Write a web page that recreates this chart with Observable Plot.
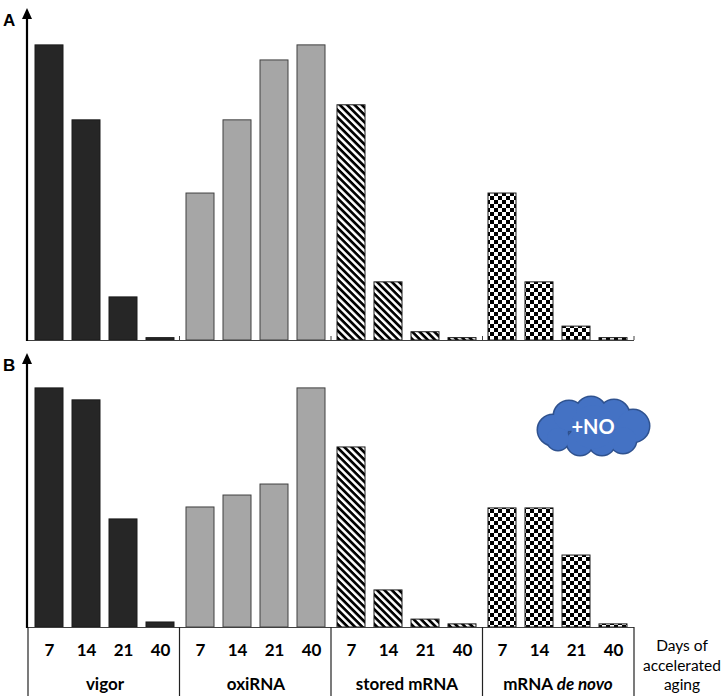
<!DOCTYPE html>
<html>
<head>
<meta charset="utf-8">
<script src="https://cdn.jsdelivr.net/npm/d3@7"></script>
<script src="https://cdn.jsdelivr.net/npm/@observablehq/plot@0.6"></script>
<style>
  html, body { margin: 0; padding: 0; background: #fff; }
  #chart { width: 725px; position: relative; }
  #chart svg { display: block; }
</style>
</head>
<body>
<svg width="0" height="0" style="position:absolute">
  <defs>
    <pattern id="stripes" patternUnits="userSpaceOnUse" width="5.2" height="5.2" patternTransform="rotate(45)">
      <rect x="0" y="0" width="5.2" height="5.2" fill="#fff"></rect>
      <rect x="0" y="0" width="5.2" height="2.7" fill="#000"></rect>
    </pattern>
    <pattern id="checker" patternUnits="userSpaceOnUse" width="8" height="8">
      <rect x="0" y="0" width="8" height="8" fill="#fff"></rect>
      <rect x="0" y="0" width="4" height="4" fill="#000"></rect>
      <rect x="4" y="4" width="4" height="4" fill="#000"></rect>
    </pattern>
  </defs>
</svg>
<div id="chart"></div>
<script>
// ---- data ----
const groups = ["vigor", "oxiRNA", "stored mRNA", "mRNA de novo"];
const days = ["7", "14", "21", "40"];

// Panel A (relative units, tallest bar = 100)
const vigorA  = [100, 74.6, 14.6, 0.8];
const oxiA    = [49.8, 74.6, 94.9, 100];
const storedA = [79.7, 19.7, 2.8, 0.8];
const denovoA = [49.8, 19.7, 4.7, 0.8];

// Panel B (+NO)
const vigorB  = [100, 95, 45.2, 2.1];
const oxiB    = [50.2, 55.2, 59.8, 100];
const storedB = [75.3, 15.5, 3.3, 1.3];
const denovoB = [49.8, 49.8, 30.1, 1.3];

const fills   = ["#262626", "#a6a6a6", "url(#stripes)", "url(#checker)"];
const strokes = ["#1a1a1a", "#404040", "#1a1a1a", "#1a1a1a"];

function rows(series) {
  return groups.flatMap((g, gi) => days.map((d, di) => ({
    group: g, gi, day: d, value: series[gi][di]
  })));
}

function decorate(plot, opts) {
  const svg = d3.select(plot);
  const ys = plot.scale("y");
  const fxs = plot.scale("fx");
  const [x0, x1] = fxs.range;
  const step = (x1 - x0) / fxs.domain.length;
  const base = ys.range[0];
  const top = ys.range[1];
  const ax = x0 - 1;
  const g = svg.append("g").attr("text-anchor", "start");
  // baseline
  g.append("line").attr("x1", ax).attr("x2", x1).attr("y1", base + 0.5).attr("y2", base + 0.5)
    .attr("stroke", "#404040").attr("stroke-width", 1.2);
  if (opts.table) {
    for (let i = 0; i <= fxs.domain.length; i++) {
      const x = x0 + i * step;
      g.append("line").attr("x1", x).attr("x2", x).attr("y1", base).attr("y2", opts.height)
        .attr("stroke", "#222").attr("stroke-width", 1.2);
    }
  } else {
    for (let i = 1; i <= fxs.domain.length; i++) {
      const x = x0 + i * step;
      g.append("line").attr("x1", x).attr("x2", x).attr("y1", base).attr("y2", base - 4)
        .attr("stroke", "#404040").attr("stroke-width", 1);
    }
  }
  // y-axis arrow
  g.append("line").attr("x1", ax).attr("x2", ax).attr("y1", base + 1).attr("y2", top + 8)
    .attr("stroke", "#000").attr("stroke-width", 2.2);
  g.append("path").attr("d", `M${ax},${top} L${ax - 5},${top + 11} L${ax + 5},${top + 11} Z`).attr("fill", "#000");
  // panel letter
  g.append("text").attr("x", 3).attr("y", top + 18).attr("text-anchor", "start").text(opts.letter)
    .attr("font-family", "Liberation Sans, Arial, sans-serif").attr("font-weight", "bold").attr("font-size", 17)
    .attr("fill", "#000");
  // italic "de novo"
  svg.selectAll("text").each(function () {
    const t = d3.select(this);
    if (t.text() === "mRNA de novo" && this.childElementCount === 0) {
      t.text(null);
      t.append("tspan").text("mRNA ");
      t.append("tspan").attr("font-style", "italic").text("de novo");
    }
  });
  return {g, x0, x1, step, base};
}

function panel(series, ymax, height, marginBottom, table) {
  const data = rows(series);
  const marks = [
    Plot.barY(data, {
      fx: "group", x: "day", y: "value",
      fill: d => fills[d.gi], stroke: d => strokes[d.gi], strokeWidth: 1
    })
  ];
  if (table) {
    marks.push(Plot.axisX({anchor: "bottom", tickSize: 0, tickPadding: 16, fontSize: 17, fontWeight: "bold", label: null}));
    marks.push(Plot.axisFx({anchor: "bottom", tickSize: 0, tickPadding: 50, fontSize: 17, fontWeight: "bold", label: null}));
  }
  return Plot.plot({
    width: 725, height, marginLeft: 28, marginRight: 91, marginTop: 8, marginBottom,
    style: {fontFamily: "Lato, sans-serif", background: "transparent", color: "#000"},
    fx: {domain: groups, padding: 0, axis: null, label: null},
    x: {domain: days, paddingInner: 0.24, paddingOuter: 0.12, axis: null, label: null},
    y: {domain: [0, ymax], axis: null},
    color: {type: "identity"},
    marks
  });
}

const chart = document.getElementById("chart");

const plotA = panel([vigorA, oxiA, storedA, denovoA], 112.5, 345, 5, false);
chart.appendChild(plotA);
decorate(plotA, {letter: "A", table: false, height: 345});

const plotB = panel([vigorB, oxiB, storedB, denovoB], 114.6, 351, 69, true);
chart.appendChild(plotB);
const dB = decorate(plotB, {letter: "B", table: true, height: 351});

// right-hand label of the table
const lab = dB.g.append("text").attr("font-family", "Lato, sans-serif").attr("font-size", 15.5)
  .attr("text-anchor", "middle").attr("fill", "#000");
["Days of", "accelerated", "aging"].forEach((s, i) => {
  lab.append("tspan").attr("x", 682).attr("y", dB.base + 24 + i * 19.5).text(s);
});

// "+NO" cloud annotation
const cloud = dB.g.append("g").attr("transform", "translate(593,82)");
const bumps = [[-40, 3, 15], [-24, -11, 15], [-2, -15, 15], [21, -12, 15], [40, -1, 16],
               [30, 13, 13], [9, 15, 13], [-13, 15, 13], [-35, 12, 11], [0, 0, 22]];
bumps.forEach(([cx, cy, r]) => cloud.append("circle").attr("cx", cx).attr("cy", cy).attr("r", r)
  .attr("fill", "#2F528F").attr("stroke", "#2F528F").attr("stroke-width", 3));
bumps.forEach(([cx, cy, r]) => cloud.append("circle").attr("cx", cx).attr("cy", cy).attr("r", r)
  .attr("fill", "#4472C4"));
cloud.append("text").attr("x", 0).attr("y", 7).attr("text-anchor", "middle")
  .attr("font-family", "Lato, sans-serif").attr("font-weight", "bold").attr("font-size", 20)
  .attr("fill", "#fff").text("+NO");
</script>
</body>
</html>
